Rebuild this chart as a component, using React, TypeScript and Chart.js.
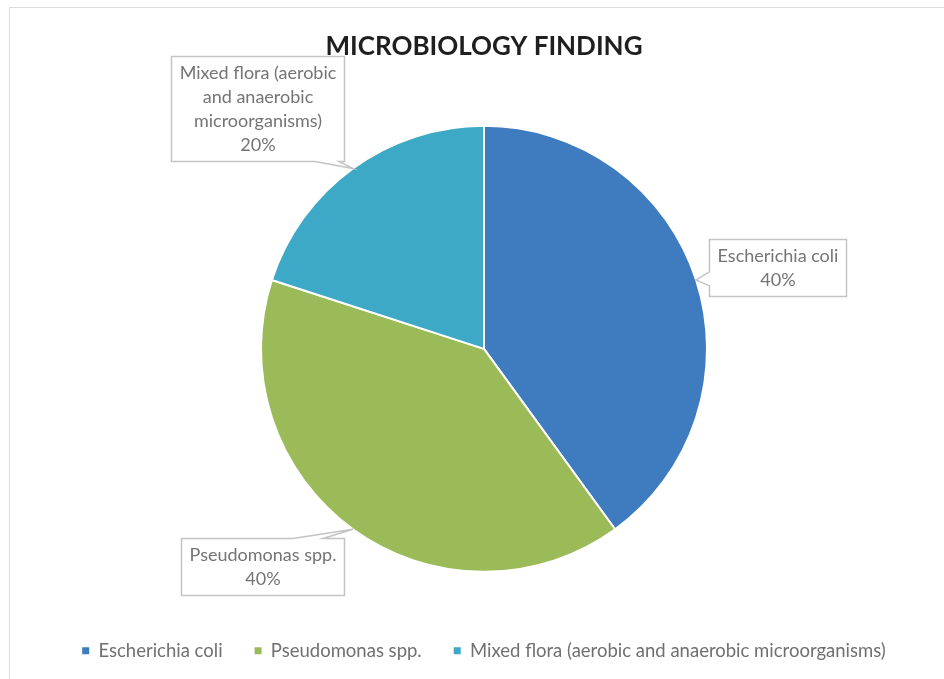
import React, { useEffect, useRef } from "react";
import { Chart, registerables } from "chart.js";

Chart.register(...registerables);

// Share of cultures per organism group (percent)
const categories = [
  "Escherichia coli",
  "Pseudomonas spp.",
  "Mixed flora (aerobic and anaerobic microorganisms)",
];
const shares = [40, 40, 20];
const sliceColors = ["#3f7bbf", "#9bbb59", "#3ea9c7"];

const FONT = "Lato, 'Open Sans', sans-serif";
const LABEL_GRAY = "#747474";

// Where each callout box sits relative to the outer mid-point of its slice.
type Placement = { side: "left" | "top" | "bottom"; dx: number; dy: number; base: [number, number] };
const calloutPlacement: Placement[] = [
  { side: "left", dx: 13, dy: -12, base: [-8, 6] },
  { side: "top", dx: -9, dy: 9, base: [-60, -30] },
  { side: "bottom", dx: -9, dy: -7, base: [-38, -14] },
];

function wrapText(ctx: CanvasRenderingContext2D, text: string, maxWidth: number): string[] {
  const words = text.split(" ");
  const lines: string[] = [];
  let cur = "";
  for (const w of words) {
    const test = cur ? cur + " " + w : w;
    if (cur && ctx.measureText(test).width > maxWidth) {
      lines.push(cur);
      cur = w;
    } else {
      cur = test;
    }
  }
  if (cur) lines.push(cur);
  return lines;
}

const calloutPlugin = {
  id: "sliceCallouts",
  afterDatasetsDraw(chart: any) {
    const ctx: CanvasRenderingContext2D = chart.ctx;
    const meta = chart.getDatasetMeta(0);
    const values = chart.data.datasets[0].data as number[];
    const total = values.reduce((a, b) => a + b, 0);
    ctx.save();
    ctx.font = `18px ${FONT}`;
    meta.data.forEach((arc: any, i: number) => {
      const p = arc.getProps(["x", "y", "startAngle", "endAngle", "outerRadius"], true);
      const mid = (p.startAngle + p.endAngle) / 2;
      const ax = p.x + Math.cos(mid) * p.outerRadius;
      const ay = p.y + Math.sin(mid) * p.outerRadius;
      const lines = wrapText(ctx, String(chart.data.labels[i]), 172);
      lines.push(Math.round((values[i] / total) * 100) + "%");
      const w = Math.round(Math.max(...lines.map((l) => ctx.measureText(l).width)) + 16);
      const h = lines.length * 24 + 9;
      const pl = calloutPlacement[i];
      let l: number, t: number;
      if (pl.side === "left") {
        l = ax + pl.dx;
        t = ay + pl.dy - h / 2;
      } else if (pl.side === "top") {
        l = ax + pl.dx - w;
        t = ay + pl.dy;
      } else {
        l = ax + pl.dx - w;
        t = ay + pl.dy - h;
      }
      l = Math.round(l) + 0.5;
      t = Math.round(t) + 0.5;
      const r = l + w;
      const b = t + h;
      ctx.beginPath();
      ctx.moveTo(l, t);
      if (pl.side === "top") {
        ctx.lineTo(ax + pl.base[0], t);
        ctx.lineTo(ax, ay);
        ctx.lineTo(ax + pl.base[1], t);
      }
      ctx.lineTo(r, t);
      ctx.lineTo(r, b);
      if (pl.side === "bottom") {
        ctx.lineTo(ax + pl.base[1], b);
        ctx.lineTo(ax, ay);
        ctx.lineTo(ax + pl.base[0], b);
      }
      ctx.lineTo(l, b);
      if (pl.side === "left") {
        ctx.lineTo(l, ay + pl.base[1]);
        ctx.lineTo(ax, ay);
        ctx.lineTo(l, ay + pl.base[0]);
      }
      ctx.closePath();
      ctx.fillStyle = "#ffffff";
      ctx.fill();
      ctx.lineWidth = 1.5;
      ctx.strokeStyle = "#c4c4c4";
      ctx.stroke();

      ctx.fillStyle = LABEL_GRAY;
      ctx.textAlign = "center";
      ctx.textBaseline = "middle";
      const cx = l + w / 2;
      lines.forEach((line, k) => {
        ctx.fillText(line, cx, t + 17 + k * 24);
      });
    });
    ctx.restore();
  },
};

export default function App() {
  const canvasRef = useRef<HTMLCanvasElement | null>(null);

  useEffect(() => {
    const canvas = canvasRef.current;
    if (!canvas) return;
    const defaultLabels = (Chart as any).overrides.pie.plugins.legend.labels.generateLabels;
    const chart = new Chart(canvas, {
      type: "pie",
      data: {
        labels: categories,
        datasets: [
          {
            data: shares,
            backgroundColor: sliceColors,
            borderColor: "#ffffff",
            borderWidth: 2,
            radius: 223,
          } as any,
        ],
      },
      plugins: [calloutPlugin],
      options: {
        responsive: false,
        animation: false,
        devicePixelRatio: 1,
        layout: { padding: { left: 0, right: 0, top: 0, bottom: 9 } },
        plugins: {
          tooltip: { enabled: false },
          title: {
            display: true,
            text: "MICROBIOLOGY FINDING",
            color: "#1f1f1f",
            font: { family: FONT, size: 26, weight: "bold" },
            padding: { top: 31, bottom: 26 },
          },
          legend: {
            display: true,
            position: "bottom",
            labels: {
              boxWidth: 7,
              boxHeight: 7,
              padding: 32,
              color: "#707070",
              font: { family: FONT, size: 18.5 },
              generateLabels: (c: any) =>
                defaultLabels(c).map((item: any) => ({
                  ...item,
                  lineWidth: 0,
                  strokeStyle: item.fillStyle,
                })),
            },
          },
        },
      } as any,
    });
    return () => chart.destroy();
  }, []);

  return (
    <div
      style={{
        position: "fixed",
        left: 0,
        top: 0,
        width: 944,
        height: 679,
        overflow: "hidden",
        background: "#ffffff",
      }}
    >
      <div
        style={{
          position: "absolute",
          left: 9,
          top: 7,
          width: 1000,
          height: 1000,
          border: "1px solid #dcdcdc",
        }}
      />
      <canvas
        ref={canvasRef}
        width={920}
        height={679}
        style={{ position: "absolute", left: 24, top: 0 }}
      />
    </div>
  );
}
